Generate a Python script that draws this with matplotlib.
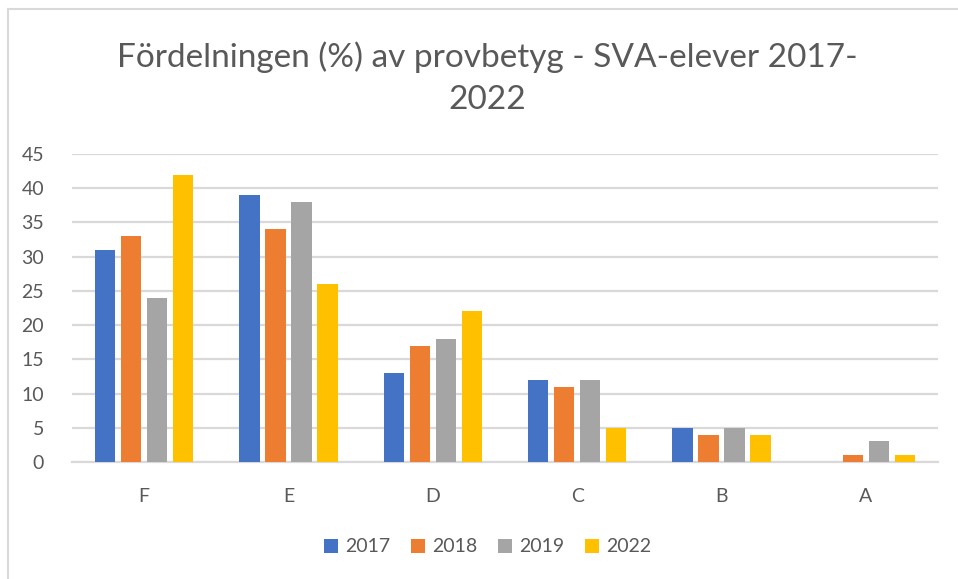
import matplotlib
matplotlib.use("Agg")
import matplotlib.pyplot as plt
import numpy as np
from matplotlib.patches import Patch

categories = ["F", "E", "D", "C", "B", "A"]
years = ["2017", "2018", "2019", "2022"]
v2017 = [31, 39, 13, 12, 5, 0]
v2018 = [33, 34, 17, 11, 4, 1]
v2019 = [24, 38, 18, 12, 5, 3]
v2022 = [42, 26, 22, 5, 4, 1]
yticks = [0, 5, 10, 15, 20, 25, 30, 35, 40, 45]
title = "Fördelningen (%) av provbetyg - SVA-elever 2017-\n2022"

series = [v2017, v2018, v2019, v2022]
colors = ["#4472C4", "#ED7D31", "#A5A5A5", "#FFC000"]
text_color = "#595959"
grid_color = "#D9D9D9"

plt.rcParams["font.family"] = ["Lato", "DejaVu Sans"]

fig = plt.figure(figsize=(9.58, 5.79), dpi=100)
ax = fig.add_axes([72/958, 1-462/579, (938-72)/958, (462-154)/579])

x = np.arange(len(categories))
width = 0.142
step = 0.18
offsets = [-1.5*step, -0.5*step, 0.5*step, 1.5*step]
for vals, off, c, lab in zip(series, offsets, colors, years):
    ax.bar(x + off, vals, width=width, color=c, label=lab, zorder=3)

ax.set_xlim(-0.5, len(categories) - 0.5)
ax.set_ylim(0, 45)
ax.set_yticks(yticks)
ax.set_xticks(x)
ax.set_xticklabels(categories)
ax.yaxis.grid(True, color=grid_color, linewidth=1.6, zorder=0)
ax.set_axisbelow(True)
for s in ["top", "right", "left"]:
    ax.spines[s].set_visible(False)
ax.spines["bottom"].set_color(grid_color)
ax.spines["bottom"].set_linewidth(1.6)
ax.tick_params(axis="both", length=0, colors=text_color, labelsize=14)
ax.tick_params(axis="y", pad=20)
ax.tick_params(axis="x", pad=19)

fig.text(0.509, 1-78/579, title, ha="center", va="center", fontsize=24,
         color=text_color, linespacing=1.5)

handles = [Patch(facecolor=c, label=l) for c, l in zip(colors, years)]
leg = fig.legend(handles=handles, loc="center", bbox_to_anchor=(0.509, 1-547/579),
                 ncol=4, frameon=False, fontsize=14, handlelength=0.7,
                 handleheight=0.7, handletextpad=0.35, columnspacing=1.1)
for t in leg.get_texts():
    t.set_color(text_color)

# chart border (left and top visible)
fig.add_artist(plt.Line2D([8/958, 8/958], [0, 1-9/579], color=grid_color,
                          linewidth=1.5, transform=fig.transFigure))
fig.add_artist(plt.Line2D([8/958, 1], [1-9/579, 1-9/579], color=grid_color,
                          linewidth=1.5, transform=fig.transFigure))

fig.savefig("out.png", dpi=100)
